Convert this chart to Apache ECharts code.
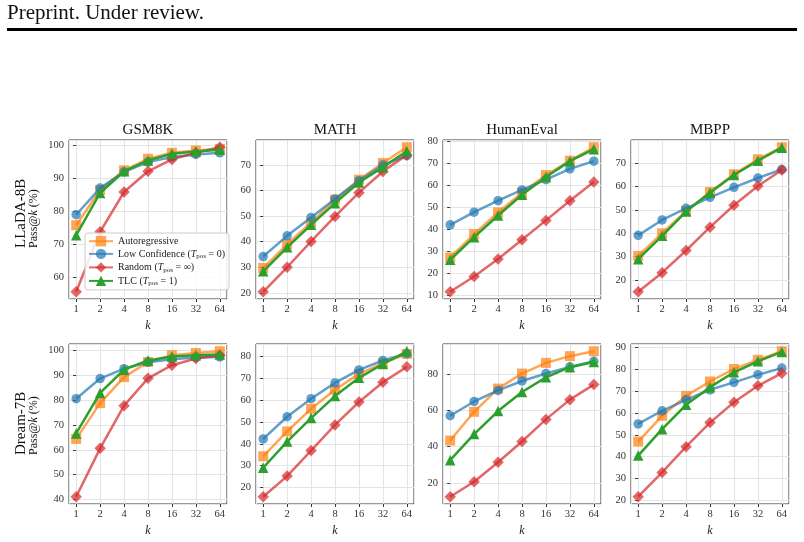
<!DOCTYPE html>
<html><head><meta charset="utf-8">
<script src="https://cdn.jsdelivr.net/npm/echarts@6/dist/echarts.min.js"></script>
<style>html,body{margin:0;padding:0;background:#fff}#c{width:804px;height:542px}</style>
</head><body><div id="c"></div>
<script>
// ---------- data ----------
const kLabels = ['1', '2', '4', '8', '16', '32', '64'];
const benchmarks = ['GSM8K', 'MATH', 'HumanEval', 'MBPP'];
const models = ['LLaDA-8B', 'Dream-7B'];
const methods = ['Autoregressive', 'Low Confidence (Tpos = 0)', 'Random (Tpos = ∞)', 'TLC (Tpos = 1)'];
const tickSteps = [10, 10, 10, 10, 10, 10, 20, 10];

// LLaDA-8B
const lladaGsm8kAR   = [75.8, 86.5, 92.5, 96.0, 97.8, 98.5, 99.0];
const lladaGsm8kLC   = [79.0, 87.1, 92.0, 95.0, 96.5, 97.3, 97.8];
const lladaGsm8kRand = [55.6, 73.8, 85.9, 92.2, 95.8, 97.8, 99.5];
const lladaGsm8kTLC  = [72.8, 85.6, 92.2, 95.5, 97.5, 98.2, 98.7];

const lladaMathAR   = [29.7, 39.0, 47.5, 56.5, 64.3, 70.8, 77.0];
const lladaMathLC   = [34.2, 42.3, 49.5, 56.7, 63.9, 70.0, 73.7];
const lladaMathRand = [20.4, 30.0, 40.1, 49.9, 59.2, 67.5, 74.0];
const lladaMathTLC  = [28.4, 37.8, 46.6, 55.1, 63.2, 69.2, 75.4];

const lladaHumanEvalAR   = [27.2, 37.8, 47.6, 56.5, 64.5, 71.0, 77.1];
const lladaHumanEvalLC   = [42.0, 47.7, 52.9, 57.8, 62.4, 67.3, 70.8];
const lladaHumanEvalRand = [11.7, 18.6, 26.5, 35.2, 44.0, 52.9, 61.4];
const lladaHumanEvalTLC  = [26.2, 36.4, 46.2, 55.6, 63.6, 70.8, 76.2];

const lladaMbppAR   = [30.3, 40.0, 49.5, 57.7, 65.3, 71.7, 76.9];
const lladaMbppLC   = [39.1, 45.7, 50.7, 55.4, 59.7, 63.7, 67.4];
const lladaMbppRand = [14.9, 23.1, 32.6, 42.6, 52.0, 60.3, 67.1];
const lladaMbppTLC  = [28.9, 38.9, 49.3, 57.4, 65.0, 71.1, 76.7];

// Dream-7B
const dreamGsm8kAR   = [64.4, 78.8, 89.3, 95.4, 98.1, 99.0, 99.7];
const dreamGsm8kLC   = [80.6, 88.7, 92.7, 95.3, 96.5, 97.2, 97.4];
const dreamGsm8kRand = [41.1, 60.6, 77.8, 88.8, 94.1, 96.8, 98.1];
const dreamGsm8kTLC  = [66.6, 82.9, 92.3, 96.0, 97.6, 98.1, 98.4];

const dreamMathAR   = [34.3, 45.6, 55.9, 64.6, 71.8, 76.6, 80.9];
const dreamMathLC   = [42.2, 52.3, 60.5, 67.7, 73.6, 77.9, 81.0];
const dreamMathRand = [15.9, 25.3, 36.9, 48.6, 59.0, 68.0, 75.0];
const dreamMathTLC  = [29.1, 41.0, 51.7, 61.7, 70.0, 76.3, 82.1];

const dreamHumanEvalAR   = [43.4, 59.3, 72.1, 80.4, 86.3, 90.0, 92.7];
const dreamHumanEvalLC   = [57.1, 65.0, 71.1, 76.3, 80.4, 84.1, 87.2];
const dreamHumanEvalRand = [12.4, 20.7, 31.4, 42.9, 55.1, 66.0, 74.3];
const dreamHumanEvalTLC  = [32.6, 47.0, 59.7, 70.2, 78.3, 83.9, 86.8];

const dreamMbppAR   = [46.9, 58.7, 67.8, 74.4, 80.1, 84.3, 88.2];
const dreamMbppLC   = [55.0, 61.0, 66.0, 70.6, 74.0, 77.5, 80.5];
const dreamMbppRand = [21.7, 32.8, 44.6, 55.6, 64.9, 72.4, 78.2];
const dreamMbppTLC  = [40.5, 52.6, 63.7, 71.8, 78.6, 83.6, 87.9];

const panelData = [
  [lladaGsm8kAR, lladaGsm8kLC, lladaGsm8kRand, lladaGsm8kTLC],
  [lladaMathAR, lladaMathLC, lladaMathRand, lladaMathTLC],
  [lladaHumanEvalAR, lladaHumanEvalLC, lladaHumanEvalRand, lladaHumanEvalTLC],
  [lladaMbppAR, lladaMbppLC, lladaMbppRand, lladaMbppTLC],
  [dreamGsm8kAR, dreamGsm8kLC, dreamGsm8kRand, dreamGsm8kTLC],
  [dreamMathAR, dreamMathLC, dreamMathRand, dreamMathTLC],
  [dreamHumanEvalAR, dreamHumanEvalLC, dreamHumanEvalRand, dreamHumanEvalTLC],
  [dreamMbppAR, dreamMbppLC, dreamMbppRand, dreamMbppTLC]
];

// ---------- style / layout ----------
const FONT = '"Liberation Serif", "DejaVu Serif", serif';
const colors = ['#ff7f0e', '#1f77b4', '#d62728', '#2ca02c'];
const alphas = [0.7, 0.7, 0.7, 1];
const symbols = ['rect', 'circle', 'diamond', 'triangle'];
const symbolSizes = [10, 9.5, 11.5, 10.5];
const gridLefts = [69, 256, 443, 631];
const gridTops = [140, 344];
const gridW = 158, gridHs = [159, 160];

const grids = [], xAxes = [], yAxes = [], series = [];
for (let p = 0; p < 8; p++) {
  const r = Math.floor(p / 4), c = p % 4;
  grids.push({left: gridLefts[c], top: gridTops[r], width: gridW, height: gridHs[r],
    show: true, borderColor: '#333', borderWidth: 1, backgroundColor: '#fff'});
  const all = [].concat(...panelData[p]);
  const lo = Math.min(...all), hi = Math.max(...all), pad = 0.05 * (hi - lo);
  const step = tickSteps[p];
  xAxes.push({
    type: 'value', gridIndex: p, min: -0.3, max: kLabels.length - 1 + 0.3,
    minInterval: 1, maxInterval: 1,
    name: 'k', nameLocation: 'middle', nameGap: 21,
    nameTextStyle: {fontFamily: FONT, fontStyle: 'italic', fontSize: 12, color: '#222'},
    axisLine: {show: false},
    axisTick: {show: true, length: 3, lineStyle: {color: '#333'}},
    axisLabel: {fontFamily: FONT, fontSize: 10.5, color: '#333', margin: 5,
      showMinLabel: false, showMaxLabel: false,
      formatter: v => { const i = Math.round(v); return Math.abs(v - i) < 1e-6 && i >= 0 && i < kLabels.length ? kLabels[i] : ''; }},
    splitLine: {show: true, lineStyle: {color: '#e4e4e4', width: 1}}
  });
  yAxes.push({
    type: 'value', gridIndex: p, min: lo - pad, max: hi + pad,
    minInterval: step, maxInterval: step,
    axisLine: {show: false},
    axisTick: {show: true, length: 3, lineStyle: {color: '#333'}},
    axisLabel: {fontFamily: FONT, fontSize: 10.5, color: '#333', margin: 5,
      showMinLabel: false, showMaxLabel: false,
      formatter: v => { const q = Math.round(v / step) * step; return Math.abs(v - q) < 1e-6 ? String(q) : ''; }},
    splitLine: {show: true, lineStyle: {color: '#e4e4e4', width: 1}}
  });
  for (let m = 0; m < 4; m++) {
    series.push({
      type: 'line', name: methods[m], xAxisIndex: p, yAxisIndex: p,
      data: panelData[p][m].map((v, i) => [i, v]),
      symbol: symbols[m], symbolSize: symbolSizes[m], showSymbol: true,
      lineStyle: {color: colors[m], width: 2.5, opacity: alphas[m]},
      itemStyle: {color: colors[m], opacity: alphas[m]},
      emphasis: {disabled: true}, animation: false, z: 2 + m * 0.01
    });
  }
}

const legendRich = {
  n: {fontFamily: FONT, fontSize: 10, color: '#222', lineHeight: 12},
  i: {fontFamily: FONT, fontSize: 10, color: '#222', fontStyle: 'italic', lineHeight: 12},
  s: {fontFamily: FONT, fontSize: 7, color: '#222', lineHeight: 12, padding: [5, 0, 0, 0]}
};
const legendFmt = name => {
  const m = name.match(/^(.*)\(Tpos (.*)\)$/);
  if (!m) return '{n|' + name + '}';
  return '{n|' + m[1] + '(}{i|T}{s|pos}{n| ' + m[2] + ')}';
};

const graphics = [
  {type: 'text', left: 7, top: 3, style: {text: 'Preprint. Under review.', font: '21px ' + FONT, fill: '#111'}},
  {type: 'rect', shape: {x: 7, y: 28, width: 790, height: 3}, style: {fill: '#000'}}
];
benchmarks.forEach((b, c) => graphics.push({type: 'text', x: gridLefts[c] + gridW / 2, y: 130,
  style: {text: b, font: '15px ' + FONT, fill: '#111', align: 'center', verticalAlign: 'middle'}}));
const rowLabelBottoms = [248, 455];
models.forEach((m, r) => {
  graphics.push({type: 'text', x: 21.5, y: rowLabelBottoms[r], rotation: Math.PI / 2,
    style: {text: m, font: '15px ' + FONT, fill: '#111', align: 'left', verticalAlign: 'middle'}});
  graphics.push({type: 'text', x: 34, y: rowLabelBottoms[r], rotation: Math.PI / 2,
    style: {text: '{a|Pass@}{b|k}{a| (%)}', fill: '#111', align: 'left', verticalAlign: 'middle',
      rich: {a: {fontFamily: FONT, fontSize: 12}, b: {fontFamily: FONT, fontSize: 12, fontStyle: 'italic'}}}});
});

const chart = echarts.init(document.getElementById('c'), null, {renderer: 'canvas'});
chart.setOption({
  animation: false,
  backgroundColor: '#fff',
  grid: grids, xAxis: xAxes, yAxis: yAxes, series: series,
  legend: {
    data: methods, orient: 'vertical', left: 85, top: 233,
    padding: [3, 4, 3, 3], itemWidth: 24, itemHeight: 13, itemGap: 1.5,
    backgroundColor: 'rgba(255,255,255,0.85)', borderColor: '#cccccc', borderWidth: 1, borderRadius: 3,
    formatter: legendFmt, textStyle: {rich: legendRich}, selectedMode: false
  },
  graphic: graphics
});
</script></body></html>
